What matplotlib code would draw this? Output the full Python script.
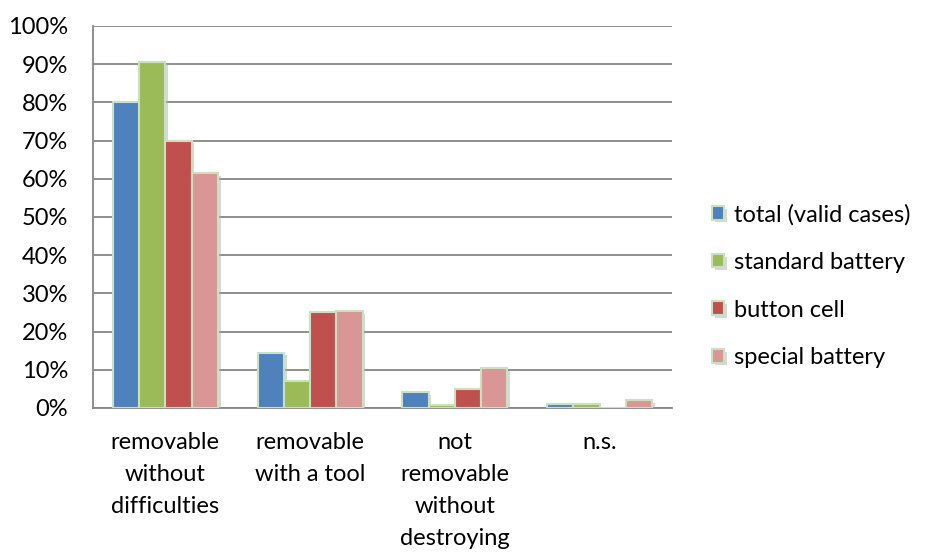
import numpy as np
import matplotlib.pyplot as plt
import matplotlib.patheffects as pe

categories = ['removable\nwithout\ndifficulties', 'removable\nwith a tool',
              'not\nremovable\nwithout\ndestroying', 'n.s.']
series_names = ['total (valid cases)', 'standard battery', 'button cell', 'special battery']
total = [80.0, 14.5, 4.1, 1.1]
standard = [90.7, 7.1, 0.9, 1.0]
button = [70.0, 25.0, 5.0, 0.0]
special = [61.5, 25.4, 10.5, 2.0]
colors = ['#4f81bd', '#9bbb59', '#c0504d', '#d99694']

plt.rcParams['font.family'] = ['Lato', 'DejaVu Sans']
fs = 17

fig = plt.figure(figsize=(9.26, 5.52), dpi=100)
ax = fig.add_axes([0.1004, 0.2609, 0.6253, 0.692])

x = np.arange(len(categories))
width = 0.181
shadow = [pe.SimplePatchShadow(offset=(2, -2), shadow_rgbFace='#b0b0b0', alpha=0.5), pe.Normal()]
for i, (vals, name) in enumerate(zip([total, standard, button, special], series_names)):
    ax.bar(x + (i - 1.5) * width, vals, width, color=colors[i], edgecolor='#c6e2c0',
           linewidth=1.5, label=name, zorder=3, path_effects=shadow)

ax.set_xlim(-0.5, len(categories) - 0.5)
ax.set_ylim(0, 100)
ax.set_yticks(np.arange(0, 101, 10))
ax.set_yticklabels([f'{v}%' for v in range(0, 101, 10)], fontsize=fs)
ax.set_xticks(x)
ax.set_xticklabels(categories, fontsize=fs, linespacing=1.65, va='top')
ax.tick_params(axis='y', length=0, pad=18)
ax.tick_params(axis='x', length=0, pad=17)
ax.yaxis.grid(True, color='#868686', linewidth=1.3, zorder=0)
for s in ['top', 'right']:
    ax.spines[s].set_visible(False)
for s in ['left', 'bottom']:
    ax.spines[s].set_color('#868686')
    ax.spines[s].set_linewidth(1.3)

fig.legend(loc='center left', bbox_to_anchor=(0.746, 0.482), frameon=False,
           fontsize=fs, handlelength=0.5, handleheight=0.5, handletextpad=0.45,
           labelspacing=1.13)

fig.savefig('out.png', dpi=100)
